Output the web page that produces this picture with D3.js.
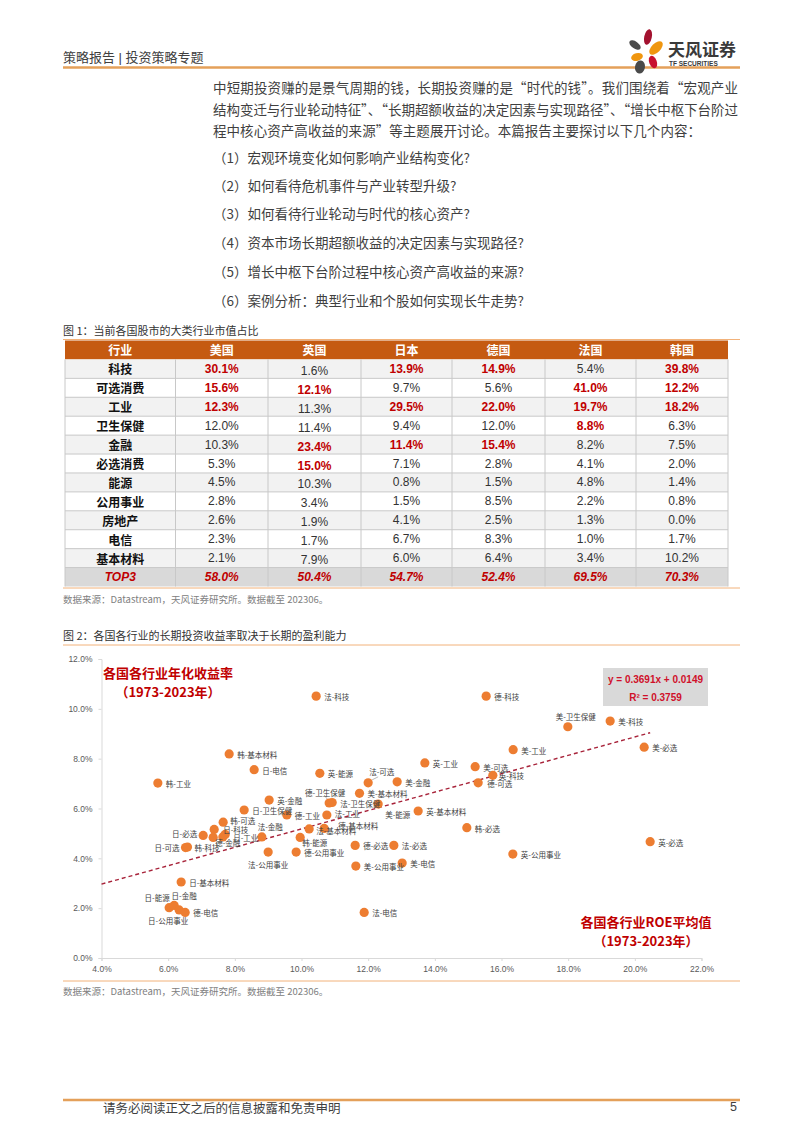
<!DOCTYPE html>
<html><head><meta charset="utf-8">
<script src="https://cdn.jsdelivr.net/npm/d3@7"></script>
<style>
body{margin:0;background:#fff;}
svg{display:block;font-family:"Liberation Sans","Noto Sans CJK SC",sans-serif;}
</style></head><body>
<svg id="page" width="802" height="1133"></svg>
<script>
// ---------------- DATA ----------------
const headerTitle = "策略报告 | 投资策略专题";
const brandName = "天风证券";
const brandSub = "TF SECURITIES";
const paragraphLines = [
  "中短期投资赚的是景气周期的钱，长期投资赚的是“时代的钱”。我们围绕着“宏观产业",
  "结构变迁与行业轮动特征”、“长期超额收益的决定因素与实现路径”、“增长中枢下台阶过",
  "程中核心资产高收益的来源”等主题展开讨论。本篇报告主要探讨以下几个内容："
];
const listItems = [
  "（1）宏观环境变化如何影响产业结构变化?",
  "（2）如何看待危机事件与产业转型升级?",
  "（3）如何看待行业轮动与时代的核心资产?",
  "（4）资本市场长期超额收益的决定因素与实现路径?",
  "（5）增长中枢下台阶过程中核心资产高收益的来源?",
  "（6）案例分析：典型行业和个股如何实现长牛走势?"
];
const fig1Title = "图 1：当前各国股市的大类行业市值占比";
const fig2Title = "图 2：各国各行业的长期投资收益率取决于长期的盈利能力";
const sourceNote = "数据来源：Datastream，天风证券研究所。数据截至 202306。";
const footerText = "请务必阅读正文之后的信息披露和免责申明";
const pageNumber = "5";

const tableColumns = ["行业", "美国", "英国", "日本", "德国", "法国", "韩国"];
const sectors = ["科技", "可选消费", "工业", "卫生保健", "金融", "必选消费", "能源", "公用事业", "房地产", "电信", "基本材料"];
const usShare = [30.1, 15.6, 12.3, 12.0, 10.3, 5.3, 4.5, 2.8, 2.6, 2.3, 2.1];
const ukShare = [1.6, 12.1, 11.3, 11.4, 23.4, 15.0, 10.3, 3.4, 1.9, 1.7, 7.9];
const jpShare = [13.9, 9.7, 29.5, 9.4, 11.4, 7.1, 0.8, 1.5, 4.1, 6.7, 6.0];
const deShare = [14.9, 5.6, 22.0, 12.0, 15.4, 2.8, 1.5, 8.5, 2.5, 8.3, 6.4];
const frShare = [5.4, 41.0, 19.7, 8.8, 8.2, 4.1, 4.8, 2.2, 1.3, 1.0, 3.4];
const krShare = [39.8, 12.2, 18.2, 6.3, 7.5, 2.0, 1.4, 0.8, 0.0, 1.7, 10.2];
const top3Label = "TOP3";
const top3Share = [58.0, 50.4, 54.7, 52.4, 69.5, 70.3];

// scatter: x = average ROE (1973-2023), y = annualised return (1973-2023), in %
const pointNames = [
  "法-科技", "德-科技", "美-卫生保健", "美-科技", "美-必选", "美-工业", "英-工业", "美-可选",
  "英-科技", "德-可选", "美-金融", "英-基本材料", "韩-必选", "英-必选", "法-必选", "英-公用事业",
  "美-电信", "韩-基本材料", "日-电信", "英-能源", "法-可选", "韩-工业", "美-基本材料", "美-能源",
  "英-金融", "德-卫生保健", "法-卫生保健", "德-工业", "法-工业", "法-基本材料", "德-基本材料", "韩-能源",
  "德-公用事业", "法-公用事业", "德-必选", "美-公用事业", "法-电信", "日-基本材料", "日-能源", "日-金融",
  "日-公用事业", "德-电信", "日-必选", "日-科技", "韩-可选", "", "德-金融", "日-工业",
  "法-金融", "日-卫生保健", "日-可选", "韩-科技"
];
const roeAvg = [
  10.44, 15.54, 17.99, 19.26, 20.28, 16.35, 13.70, 15.21,
  15.74, 15.30, 12.87, 13.50, 14.96, 20.46, 12.77, 16.34,
  13.02, 7.83, 8.58, 10.55, 12.00, 5.69, 11.74, 12.30,
  9.03, 10.83, 10.92, 9.56, 10.76, 10.23, 10.68, 9.96,
  9.84, 9.00, 11.61, 11.63, 11.88, 6.39, 6.03, 6.18,
  6.33, 6.51, 7.05, 7.38, 7.65, 7.35, 7.64, 7.71,
  8.81, 8.28, 6.52, 6.58
];
const annualReturn = [
  10.51, 10.51, 9.28, 9.51, 8.46, 8.36, 7.83, 7.68,
  7.33, 7.03, 7.07, 5.90, 5.23, 4.67, 4.52, 4.17,
  3.81, 8.19, 7.56, 7.41, 7.03, 7.02, 6.61, 6.18,
  6.34, 6.22, 6.24, 5.74, 5.74, 5.18, 5.20, 4.84,
  4.25, 4.25, 4.52, 3.69, 1.83, 3.05, 2.02, 2.11,
  1.93, 1.83, 4.92, 5.16, 5.45, 4.84, 4.86, 4.96,
  4.86, 5.94, 4.43, 4.45
];
const xTicks = [0.04, 0.06, 0.08, 0.10, 0.12, 0.14, 0.16, 0.18, 0.20, 0.22];
const yTicks = [0, 0.02, 0.04, 0.06, 0.08, 0.10, 0.12];
const trendSlope = 0.3691;
const trendIntercept = 0.0149;
const equationText = "y = 0.3691x + 0.0149";
const r2Text = "R² = 0.3759";
const yAxisNote = ["各国各行业年化收益率", "（1973-2023年）"];
const xAxisNote = ["各国各行业ROE平均值", "（1973-2023年）"];

// ---------------- LAYOUT ----------------
const labelPlacement = { // [dx, dy, anchor, leader?]
  "美-卫生保健": [8, -10, "middle"],
  "英-科技": [6, 0, "start"],
  "德-可选": [9, 0.5, "start"],
  "法-可选": [1, -11, "start", [4, -3, 10, -6]],
  "美-能源": [7, 10, "start"],
  "德-卫生保健": [-4, -11, "middle", [-2, -4, -5, -8]],
  "法-工业": [8, -1, "start"],
  "法-基本材料": [7, 2, "start"],
  "德-基本材料": [14, -3, "start"],
  "韩-能源": [2, 5, "start"],
  "法-公用事业": [0, 12, "middle"],
  "日-能源": [-12, -10, "middle"],
  "日-金融": [10, -10, "middle"],
  "日-公用事业": [-11, 11, "middle"],
  "日-必选": [-6, -2, "end"],
  "日-科技": [9, 0, "start"],
  "韩-可选": [7, -2, "start"],
  "德-金融": [5, 6, "middle"],
  "日-工业": [8, 3, "start"],
  "法-金融": [8.5, -10, "middle"],
  "日-可选": [-6, -0.5, "end"],
  "韩-科技": [7, 0, "start"]
};

const svg = d3.select("#page");
const textColor = "#3f3f3f";
const red = "#c00000";

// ---------------- HEADER ----------------
svg.append("text").attr("x", 63).attr("y", 57).attr("dominant-baseline", "central")
  .attr("font-size", 13).attr("fill", "#404040").text(headerTitle);
svg.append("line").attr("x1", 63).attr("x2", 740).attr("y1", 67.5).attr("y2", 67.5)
  .attr("stroke", "#e4a05a").attr("stroke-width", 2.5);

// logo petals
const logo = svg.append("g");
const petals = [
  [648, 37, 3.8, 8, 12, "#a3122f"],
  [656, 48, 4.5, 8.5, 45, "#f0960f"],
  [635, 45, 3.5, 6.5, -55, "#4a4a4a"],
  [637, 57, 6, 3.8, -15, "#f0960f"],
  [640, 67, 5, 6.5, 10, "#4a4a4a"],
  [653, 62, 3.8, 6.5, -20, "#c8102e"]
];
petals.forEach(p => {
  logo.append("ellipse").attr("cx", 0).attr("cy", 0).attr("rx", p[2]).attr("ry", p[3])
    .attr("transform", `translate(${p[0]},${p[1]}) rotate(${p[4]})`).attr("fill", p[5]);
});
svg.append("text").attr("x", 668).attr("y", 48).attr("dominant-baseline", "central")
  .attr("font-size", 17).attr("font-weight", "bold").attr("fill", "#3a3a3a")
  .attr("font-family", "Noto Sans CJK SC").text(brandName);
svg.append("text").attr("x", 669).attr("y", 63).attr("dominant-baseline", "central")
  .attr("font-size", 6.5).attr("font-weight", "bold").attr("fill", "#3a3a3a").text(brandSub);

// ---------------- BODY TEXT ----------------
const paraY = [87, 108.5, 130];
const paraLen = [525, 525, 488];
paragraphLines.forEach((t, i) => {
  svg.append("text").attr("x", 213).attr("y", paraY[i]).attr("dominant-baseline", "central")
    .attr("font-size", 13.5).attr("fill", textColor).attr("font-family", "Noto Sans CJK SC")
    .attr("textLength", paraLen[i]).attr("lengthAdjust", "spacing").text(t);
});
const listY = [157, 184.5, 213, 242, 271, 300];
listItems.forEach((t, i) => {
  svg.append("text").attr("x", 213).attr("y", listY[i]).attr("dominant-baseline", "central")
    .attr("font-size", 13.5).attr("fill", textColor).attr("font-family", "Noto Sans CJK SC").text(t);
});

// ---------------- FIGURE 1 : TABLE ----------------
svg.append("text").attr("x", 63).attr("y", 330).attr("dominant-baseline", "central")
  .attr("font-size", 11).attr("fill", "#333").attr("font-family", "Noto Sans CJK SC").text(fig1Title);
svg.append("line").attr("x1", 63).attr("x2", 740).attr("y1", 339.5).attr("y2", 339.5)
  .attr("stroke", "#f2b27a").attr("stroke-width", 1);

const colEdges = [65, 175.5, 268, 361, 452, 545, 636, 728];
const shares = [usShare, ukShare, jpShare, deShare, frShare, krShare];
const rowBand = d3.scaleBand().domain(d3.range(sectors.length + 2)).range([340.5, 586.5]);
const tbl = svg.append("g");
// header
tbl.append("rect").attr("x", colEdges[0]).attr("y", rowBand(0)).attr("width", colEdges[7] - colEdges[0])
  .attr("height", rowBand.bandwidth()).attr("fill", "#c55a11");
tableColumns.forEach((c, j) => {
  tbl.append("text").attr("x", (colEdges[j] + colEdges[j + 1]) / 2).attr("y", rowBand(0) + rowBand.bandwidth() / 2)
    .attr("text-anchor", "middle").attr("dominant-baseline", "central").attr("font-size", 12)
    .attr("font-weight", "bold").attr("fill", "#fff").attr("font-family", "Noto Sans CJK SC").text(c);
});
// top3 sets per country
const top3Sets = shares.map(arr => new Set(arr.map((v, i) => [v, i]).sort((a, b) => b[0] - a[0]).slice(0, 3).map(d => d[1])));
sectors.forEach((s, i) => {
  const y0 = rowBand(i + 1), h = rowBand.bandwidth(), cy = y0 + h / 2;
  tbl.append("rect").attr("x", colEdges[0]).attr("y", y0).attr("width", colEdges[7] - colEdges[0])
    .attr("height", h).attr("fill", i % 2 === 0 ? "#f2f2f2" : "#ffffff");
  tbl.append("text").attr("x", (colEdges[0] + colEdges[1]) / 2).attr("y", cy)
    .attr("text-anchor", "middle").attr("dominant-baseline", "central").attr("font-size", 12)
    .attr("font-weight", "bold").attr("fill", "#111").attr("font-family", "Noto Sans CJK SC").text(s);
  shares.forEach((arr, j) => {
    const hi = top3Sets[j].has(i);
    tbl.append("text").attr("x", (colEdges[j + 1] + colEdges[j + 2]) / 2).attr("y", cy + (j === 1 ? 2 : 0))
      .attr("text-anchor", "middle").attr("dominant-baseline", "central").attr("font-size", 12)
      .attr("font-weight", hi ? "bold" : "normal").attr("fill", hi ? red : "#333")
      .text(arr[i].toFixed(1) + "%");
  });
});
// top3 row
{
  const y0 = rowBand(sectors.length + 1), h = rowBand.bandwidth(), cy = y0 + h / 2;
  tbl.append("rect").attr("x", colEdges[0]).attr("y", y0).attr("width", colEdges[7] - colEdges[0])
    .attr("height", h).attr("fill", "#d9d9d9");
  tbl.append("text").attr("x", (colEdges[0] + colEdges[1]) / 2).attr("y", cy)
    .attr("text-anchor", "middle").attr("dominant-baseline", "central").attr("font-size", 12)
    .attr("font-weight", "bold").attr("font-style", "italic").attr("fill", red).text(top3Label);
  top3Share.forEach((v, j) => {
    tbl.append("text").attr("x", (colEdges[j + 1] + colEdges[j + 2]) / 2).attr("y", cy)
      .attr("text-anchor", "middle").attr("dominant-baseline", "central").attr("font-size", 12)
      .attr("font-weight", "bold").attr("font-style", "italic").attr("fill", red).text(v.toFixed(1) + "%");
  });
}
// grid lines
d3.range(2, sectors.length + 2).forEach(r => {
  tbl.append("line").attr("x1", colEdges[0]).attr("x2", colEdges[7]).attr("y1", rowBand(r)).attr("y2", rowBand(r))
    .attr("stroke", "#c8c8c8").attr("stroke-width", 1);
});
colEdges.forEach((cx, j) => {
  tbl.append("line").attr("x1", cx).attr("x2", cx).attr("y1", rowBand(1)).attr("y2", rowBand(sectors.length + 1) + rowBand.bandwidth())
    .attr("stroke", "#c8c8c8").attr("stroke-width", 1);
});
svg.append("line").attr("x1", 63).attr("x2", 740).attr("y1", 588).attr("y2", 588)
  .attr("stroke", "#f2b27a").attr("stroke-width", 1);
svg.append("text").attr("x", 63).attr("y", 599).attr("dominant-baseline", "central")
  .attr("font-size", 9.5).attr("fill", "#808080").attr("font-family", "Noto Sans CJK SC").text(sourceNote);

// ---------------- FIGURE 2 : SCATTER ----------------
svg.append("text").attr("x", 63).attr("y", 635).attr("dominant-baseline", "central")
  .attr("font-size", 11).attr("fill", "#333").attr("font-family", "Noto Sans CJK SC").text(fig2Title);
svg.append("line").attr("x1", 63).attr("x2", 740).attr("y1", 645).attr("y2", 645)
  .attr("stroke", "#f2b27a").attr("stroke-width", 1);

const x = d3.scaleLinear().domain([0.04, 0.22]).range([101.5, 701.5]);
const y = d3.scaleLinear().domain([0, 0.12]).range([958, 659]);
const fmt = d3.format(".1%");

const gx = svg.append("g").attr("transform", "translate(0,958)")
  .call(d3.axisBottom(x).tickValues(xTicks).tickFormat(fmt).tickSize(3).tickPadding(5));
const gy = svg.append("g").attr("transform", "translate(101.5,0)")
  .call(d3.axisLeft(y).tickValues(yTicks).tickFormat(fmt).tickSize(3).tickPadding(6));
[gx, gy].forEach(g => {
  g.select(".domain").attr("stroke", "#d9d9d9");
  g.selectAll(".tick line").attr("stroke", "#d9d9d9");
  g.selectAll(".tick text").attr("fill", "#595959").attr("font-size", 8.5).attr("font-family", "Liberation Sans");
});

// trend line
const pts = pointNames.map((n, i) => ({ name: n, x: roeAvg[i] / 100, y: annualReturn[i] / 100 }));
const xMaxData = d3.max(pts, d => d.x);
svg.append("line")
  .attr("x1", x(0.04)).attr("y1", y(trendSlope * 0.04 + trendIntercept))
  .attr("x2", x(xMaxData)).attr("y2", y(trendSlope * xMaxData + trendIntercept))
  .attr("stroke", "#a8233a").attr("stroke-width", 1.4).attr("stroke-dasharray", "4,3");

// leaders
pts.forEach(d => {
  const p = labelPlacement[d.name];
  if (p && p[3]) {
    const cx = x(d.x), cy = y(d.y), L = p[3];
    svg.append("line").attr("x1", cx + L[0]).attr("y1", cy + L[1]).attr("x2", cx + L[2]).attr("y2", cy + L[3])
      .attr("stroke", "#a6a6a6").attr("stroke-width", 0.8);
  }
});
// points
svg.append("g").selectAll("circle").data(pts).join("circle")
  .attr("cx", d => x(d.x)).attr("cy", d => y(d.y)).attr("r", 4.6)
  .attr("fill", "#ed7d31");
// labels
svg.append("g").selectAll("text").data(pts.filter(d => d.name)).join("text")
  .attr("x", d => x(d.x) + (labelPlacement[d.name] ? labelPlacement[d.name][0] : 8))
  .attr("y", d => y(d.y) + (labelPlacement[d.name] ? labelPlacement[d.name][1] : 0.5))
  .attr("text-anchor", d => labelPlacement[d.name] ? labelPlacement[d.name][2] : "start")
  .attr("dominant-baseline", "central").attr("font-size", 7.5).attr("fill", "#404040")
  .attr("font-family", "Noto Sans CJK SC")
  .text(d => d.name);

// equation box
svg.append("rect").attr("x", 603).attr("y", 668).attr("width", 105).attr("height", 38).attr("fill", "#d9d9d9");
svg.append("text").attr("x", 655.5).attr("y", 679).attr("text-anchor", "middle").attr("dominant-baseline", "central")
  .attr("font-size", 10).attr("font-weight", "bold").attr("fill", "#d0102a").text(equationText);
svg.append("text").attr("x", 655.5).attr("y", 697).attr("text-anchor", "middle").attr("dominant-baseline", "central")
  .attr("font-size", 10).attr("font-weight", "bold").attr("fill", "#d0102a").text(r2Text);

// axis notes
yAxisNote.forEach((t, i) => {
  svg.append("text").attr("x", 168).attr("y", 672 + i * 19.5).attr("text-anchor", "middle").attr("dominant-baseline", "central")
    .attr("font-size", 13).attr("font-weight", "bold").attr("fill", red).attr("font-family", "Noto Sans CJK SC").text(t);
});
xAxisNote.forEach((t, i) => {
  svg.append("text").attr("x", 646).attr("y", 921 + i * 19.5).attr("text-anchor", "middle").attr("dominant-baseline", "central")
    .attr("font-size", 13).attr("font-weight", "bold").attr("fill", red).attr("font-family", "Noto Sans CJK SC").text(t);
});

svg.append("line").attr("x1", 63).attr("x2", 740).attr("y1", 981).attr("y2", 981)
  .attr("stroke", "#f2b27a").attr("stroke-width", 1);
svg.append("text").attr("x", 63).attr("y", 991).attr("dominant-baseline", "central")
  .attr("font-size", 9.5).attr("fill", "#808080").attr("font-family", "Noto Sans CJK SC").text(sourceNote);

// ---------------- FOOTER ----------------
svg.append("line").attr("x1", 63).attr("x2", 740).attr("y1", 1100).attr("y2", 1100)
  .attr("stroke", "#e4a05a").attr("stroke-width", 2.5);
svg.append("text").attr("x", 103).attr("y", 1107).attr("dominant-baseline", "central")
  .attr("font-size", 12.5).attr("fill", "#404040").attr("font-family", "Noto Sans CJK SC").text(footerText);
svg.append("text").attr("x", 737).attr("y", 1107).attr("text-anchor", "end").attr("dominant-baseline", "central")
  .attr("font-size", 12.5).attr("fill", "#404040").text(pageNumber);
</script>
</body></html>
